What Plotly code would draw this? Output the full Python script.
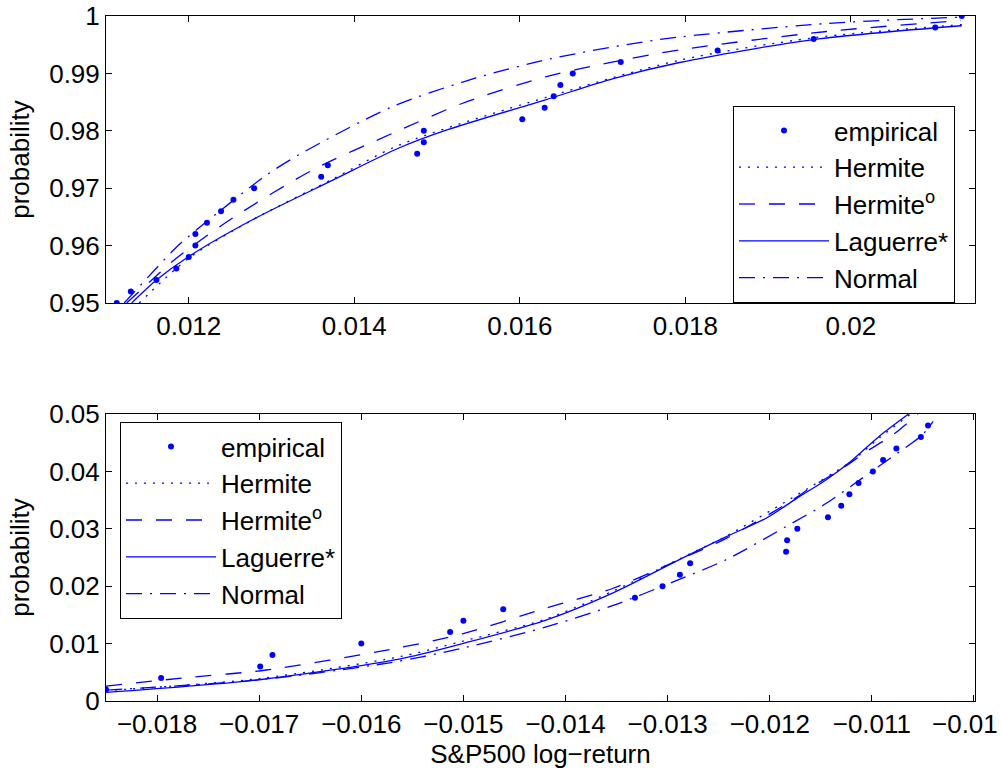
import plotly.graph_objects as go

# ---------------- data: upper tail ----------------
up_emp_x = [0.01113, 0.01130, 0.01161, 0.01185, 0.01200, 0.01208, 0.01208, 0.01222,
            0.01239, 0.01254, 0.01279, 0.01360, 0.01368, 0.01476, 0.01484, 0.01484,
            0.01603, 0.01630, 0.01641, 0.01649, 0.01664, 0.01722, 0.01839, 0.01955,
            0.02102, 0.02134]
up_emp_y = [0.950, 0.952, 0.954, 0.956, 0.958, 0.960, 0.962, 0.964, 0.966, 0.968,
            0.970, 0.972, 0.974, 0.976, 0.978, 0.980, 0.982, 0.984, 0.986, 0.988,
            0.990, 0.992, 0.994, 0.996, 0.998, 1.000]

up_her_x = [0.01140, 0.01200, 0.01277, 0.01374, 0.01454, 0.01631, 0.01793, 0.01955, 0.02134]
up_her_y = [0.9500, 0.9578, 0.9645, 0.9716, 0.9775, 0.9858, 0.9923, 0.9962, 0.9985]

up_hero_x = [0.01125, 0.01153, 0.01185, 0.01253, 0.01350, 0.01450, 0.01531, 0.01631,
             0.01713, 0.01793, 0.01971, 0.02133]
up_hero_y = [0.9500, 0.9537, 0.9578, 0.9648, 0.9732, 0.9798, 0.9848, 0.9894,
             0.9920, 0.9941, 0.9973, 0.9992]

up_lag_x = [0.01131, 0.01161, 0.01200, 0.01277, 0.01374, 0.01454, 0.01511, 0.01631,
            0.01713, 0.01793, 0.01955, 0.02134]
up_lag_y = [0.9500, 0.9540, 0.9581, 0.9645, 0.9714, 0.9770, 0.9801, 0.9854,
            0.9891, 0.9919, 0.9959, 0.9983]

up_nor_x = [0.01122, 0.01185, 0.01209, 0.01294, 0.01334, 0.01446, 0.01547, 0.01639,
            0.01769, 0.01971, 0.02133]
up_nor_y = [0.9500, 0.9597, 0.9627, 0.9723, 0.9759, 0.9842, 0.9892, 0.9926,
            0.9959, 0.9987, 0.9998]

# ---------------- data: lower tail ----------------
lo_emp_x = [-0.01850, -0.01796, -0.01699, -0.01687, -0.01600, -0.01513, -0.01500,
            -0.01461, -0.01332, -0.01305, -0.01288, -0.01278, -0.01184, -0.01183,
            -0.01173, -0.01143, -0.01130, -0.01122, -0.01113, -0.01099, -0.01089,
            -0.01076, -0.01052, -0.01045]
lo_emp_y = [0.002, 0.004, 0.006, 0.008, 0.010, 0.012, 0.014, 0.016, 0.018, 0.020,
            0.022, 0.024, 0.026, 0.028, 0.030, 0.032, 0.034, 0.036, 0.038, 0.040,
            0.042, 0.044, 0.046, 0.048]

lo_her_x = [-0.0185, -0.0170, -0.01563, -0.01501, -0.01419, -0.01354, -0.01289,
            -0.01243, -0.01178, -0.01119, -0.01093, -0.01062]
lo_her_y = [0.0018, 0.0039, 0.0077, 0.0104, 0.0143, 0.0191, 0.0247,
            0.0287, 0.0354, 0.0419, 0.0458, 0.0500]

lo_hero_x = [-0.0185, -0.01775, -0.01693, -0.01571, -0.01501, -0.01419, -0.01354,
             -0.01289, -0.01243, -0.01183, -0.01157, -0.01130, -0.01104, -0.01080, -0.01055]
lo_hero_y = [0.0026, 0.0040, 0.0054, 0.0090, 0.0117, 0.0162, 0.0196,
             0.0246, 0.0283, 0.0344, 0.0375, 0.0404, 0.0436, 0.0463, 0.0500]

lo_lag_x = [-0.0185, -0.0170, -0.01563, -0.01501, -0.01419, -0.01354, -0.01289,
            -0.01243, -0.01204, -0.01171, -0.01145, -0.01119, -0.01093, -0.01064]
lo_lag_y = [0.0015, 0.0037, 0.0073, 0.0100, 0.0141, 0.0188, 0.0246,
            0.0286, 0.0318, 0.0356, 0.0385, 0.0420, 0.0461, 0.0500]

lo_nor_x = [-0.0185, -0.0170, -0.01571, -0.01501, -0.01419, -0.01354, -0.01294,
            -0.01243, -0.01178, -0.01145, -0.01112, -0.01082, -0.01051, -0.01040]
lo_nor_y = [0.0019, 0.0037, 0.0067, 0.0092, 0.0129, 0.0166, 0.0208,
            0.0246, 0.0310, 0.0344, 0.0385, 0.0423, 0.0463, 0.0487]

# ---------------- ticks ----------------
up_xtick_vals = [0.012, 0.014, 0.016, 0.018, 0.02]
up_xtick_text = ["0.012", "0.014", "0.016", "0.018", "0.02"]
up_ytick_vals = [0.95, 0.96, 0.97, 0.98, 0.99, 1.0]
up_ytick_text = ["0.95", "0.96", "0.97", "0.98", "0.99", "1"]
lo_xtick_vals = [-0.018, -0.017, -0.016, -0.015, -0.014, -0.013, -0.012, -0.011, -0.010]
lo_xtick_text = ["\u22120.018", "\u22120.017", "\u22120.016", "\u22120.015", "\u22120.014",
                 "\u22120.013", "\u22120.012", "\u22120.011", "\u22120.01"]
lo_ytick_vals = [0, 0.01, 0.02, 0.03, 0.04, 0.05]
lo_ytick_text = ["0", "0.01", "0.02", "0.03", "0.04", "0.05"]

names = ["empirical", "Hermite", "Hermite<sup>o</sup>", "Laguerre*", "Normal"]

BLUE = "#0000ff"
FONT = "Liberation Sans, Arial, Helvetica, sans-serif"
FS = 26
LW = 1.3
dashes = {"dot": "2px,7px", "dash": "16px,14px", "solid": "solid",
          "dashdot": "16px,8px,2px,8px"}

# the last lower tick label sits at the page edge: draw it as a right-aligned label instead
lo_xtick_disp = list(lo_xtick_text)
edge_label = lo_xtick_disp[-1]
lo_xtick_disp[-1] = ""

fig = go.Figure()


def add_panel(xa, ya, leg, ex, ey, curves):
    fig.add_trace(go.Scatter(x=ex, y=ey, mode="markers", name=names[0],
                             marker=dict(color=BLUE, size=6),
                             xaxis=xa, yaxis=ya, legend=leg))
    for (cx, cy), nm, ds in zip(curves, names[1:], ["dot", "dash", "solid", "dashdot"]):
        fig.add_trace(go.Scatter(x=cx, y=cy, mode="lines", name=nm,
                                 line=dict(color=BLUE, width=LW, dash=dashes[ds],
                                           shape="spline", smoothing=0.8),
                                 xaxis=xa, yaxis=ya, legend=leg))


add_panel("x", "y", "legend", up_emp_x, up_emp_y,
          [(up_her_x, up_her_y), (up_hero_x, up_hero_y), (up_lag_x, up_lag_y), (up_nor_x, up_nor_y)])
add_panel("x2", "y2", "legend2", lo_emp_x, lo_emp_y,
          [(lo_her_x, lo_her_y), (lo_hero_x, lo_hero_y), (lo_lag_x, lo_lag_y), (lo_nor_x, lo_nor_y)])

W, H = 1001, 773
xdom = [106 / W, 975 / W]
axis_common = dict(showline=True, linecolor="black", linewidth=1, mirror="ticks",
                   ticks="inside", ticklen=6, tickwidth=1, tickcolor="black",
                   showgrid=False, zeroline=False, automargin=False,
                   tickfont=dict(family=FONT, size=FS, color="black"))

fig.update_layout(
    width=W, height=H,
    margin=dict(l=0, r=0, t=0, b=0),
    paper_bgcolor="white", plot_bgcolor="white",
    font=dict(family=FONT, size=FS, color="black"),
    xaxis=dict(domain=xdom, range=[0.0110, 0.0215], anchor="y",
               tickvals=up_xtick_vals, ticktext=up_xtick_text, **axis_common),
    yaxis=dict(domain=[1 - 303 / H, 1 - 16 / H], range=[0.95, 1.0], anchor="x",
               tickvals=up_ytick_vals, ticktext=up_ytick_text,
               title=dict(text="probability", font=dict(family=FONT, size=FS), standoff=12),
               **axis_common),
    xaxis2=dict(domain=xdom, range=[-0.0185, -0.00999], anchor="y2",
                tickvals=lo_xtick_vals, ticktext=lo_xtick_disp,
                title=dict(text="S&P500 log\u2212return", font=dict(family=FONT, size=FS), standoff=2),
                **axis_common),
    yaxis2=dict(domain=[1 - 701 / H, 1 - 414 / H], range=[0, 0.05], anchor="x2",
                tickvals=lo_ytick_vals, ticktext=lo_ytick_text,
                title=dict(text="probability", font=dict(family=FONT, size=FS), standoff=12),
                **axis_common),
    legend=dict(x=733 / W, y=1 - 106 / H, xanchor="left", yanchor="top",
                bgcolor="white", bordercolor="black", borderwidth=1,
                font=dict(family=FONT, size=FS, color="black"),
                itemwidth=90, tracegroupgap=0, itemclick=False),
    legend2=dict(x=120 / W, y=1 - 422 / H, xanchor="left", yanchor="top",
                 bgcolor="white", bordercolor="black", borderwidth=1,
                 font=dict(family=FONT, size=FS, color="black"),
                 itemwidth=90, tracegroupgap=0, itemclick=False),
    showlegend=True,
    annotations=[dict(text=edge_label, xref="paper", yref="paper",
                      x=999 / W, y=1 - 724 / H, xanchor="right", yanchor="middle",
                      showarrow=False, borderpad=0,
                      font=dict(family=FONT, size=FS, color="black"))],
)

fig.write_html("out.html")
